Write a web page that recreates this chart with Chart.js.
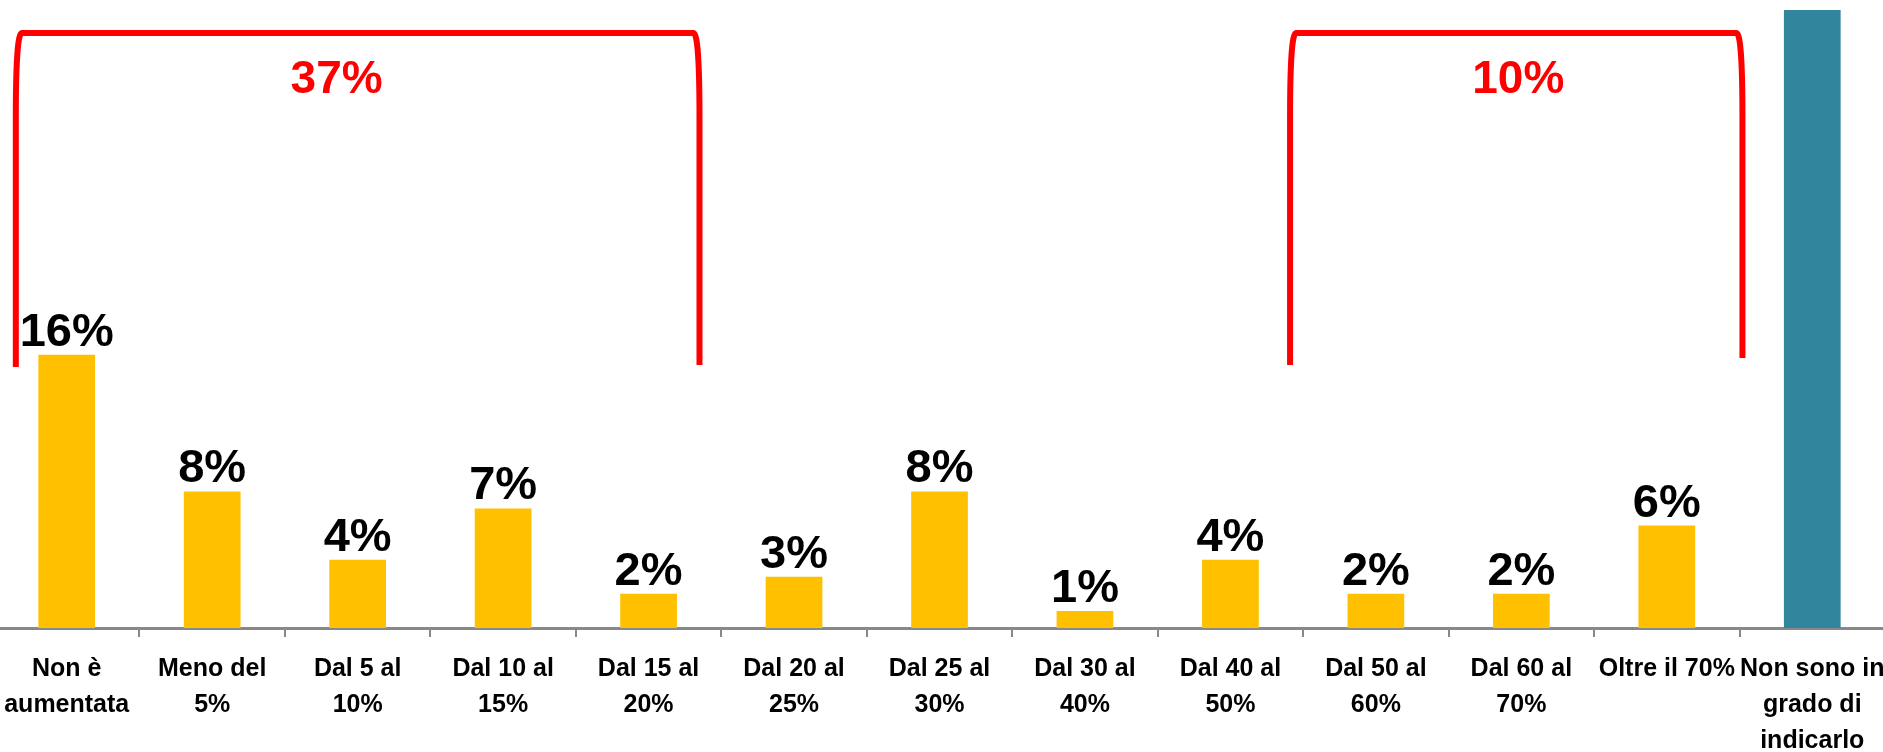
<!DOCTYPE html>
<html>
<head>
<meta charset="utf-8">
<script src="https://cdn.jsdelivr.net/npm/chart.js@4/dist/chart.umd.min.js"></script>
<style>
  html, body { margin: 0; padding: 0; background: #fff; overflow: hidden; }
  #wrap { position: absolute; left: -6px; top: 0; width: 1891px; height: 752px; }
</style>
</head>
<body>
<div id="wrap"><canvas id="myChart"></canvas></div>
<script>
// categories (multi-line tick labels)
const categories = [
    ['Non è', 'aumentata'],
    ['Meno del', '5%'],
    ['Dal 5 al', '10%'],
    ['Dal 10 al', '15%'],
    ['Dal 15 al', '20%'],
    ['Dal 20 al', '25%'],
    ['Dal 25 al', '30%'],
    ['Dal 30 al', '40%'],
    ['Dal 40 al', '50%'],
    ['Dal 50 al', '60%'],
    ['Dal 60 al', '70%'],
    ['Oltre il 70%'],
    ['Non sono in', 'grado di', 'indicarlo']
];
// percentages
const values = [16, 8, 4, 7, 2, 3, 8, 1, 4, 2, 2, 6, 37];
const yMax = 36.2;

// groups shown with the red brackets
const groupLabels = ['37%', '10%'];
const groupFrom = [0, 9];
const groupTo = [4, 11];

const barColors = values.map((v, i) => i === values.length - 1 ? '#31859C' : '#FFC000');
const FONT = '"Liberation Sans", Arial, sans-serif';

// bracket look, in fractions of a category width / pixels
const bracketStyle = [
    { padL: 0.35, padR: 0.35, bottomL: 367, bottomR: 365, textDx: -21 },
    { padL: 0.59, padR: 0.52, bottomL: 365, bottomR: 358, textDx: 2 }
];

const valueLabels = {
    id: 'valueLabels',
    afterDatasetsDraw(chart) {
        const ctx = chart.ctx;
        const meta = chart.getDatasetMeta(0);
        ctx.save();
        ctx.font = 'bold 47px ' + FONT;
        ctx.fillStyle = '#000';
        ctx.textAlign = 'center';
        ctx.textBaseline = 'alphabetic';
        meta.data.forEach((bar, i) => {
            if (values[i] > yMax) return; // clipped bar, no label
            ctx.fillText(values[i] + '%', bar.x, bar.y - 9);
        });
        ctx.restore();
    }
};

const brackets = {
    id: 'brackets',
    afterDraw(chart) {
        const ctx = chart.ctx;
        const x = chart.scales.x;
        const w = x.getPixelForValue(1) - x.getPixelForValue(0);
        const top = 33;
        ctx.save();
        ctx.strokeStyle = '#FF0000';
        ctx.lineWidth = 6;
        ctx.lineJoin = 'round';
        groupLabels.forEach((label, g) => {
            const s = bracketStyle[g];
            const xl = x.getPixelForValue(groupFrom[g]) - s.padL * w;
            const xr = x.getPixelForValue(groupTo[g]) + s.padR * w;
            ctx.beginPath();
            ctx.moveTo(xl, s.bottomL);
            ctx.lineTo(xl, top + 85);
            ctx.quadraticCurveTo(xl, top, xl + 6, top);
            ctx.lineTo(xr - 6, top);
            ctx.quadraticCurveTo(xr, top, xr, top + 85);
            ctx.lineTo(xr, s.bottomR);
            ctx.stroke();

            ctx.font = 'bold 46px ' + FONT;
            ctx.fillStyle = '#FF0000';
            ctx.textAlign = 'center';
            ctx.textBaseline = 'middle';
            ctx.fillText(label, (xl + xr) / 2 + s.textDx, 80);
        });
        ctx.restore();
    }
};

new Chart(document.getElementById('myChart'), {
    type: 'bar',
    data: {
        labels: categories,
        datasets: [{
            data: values,
            backgroundColor: barColors,
            borderWidth: 0,
            categoryPercentage: 1,
            barPercentage: 0.39
        }]
    },
    options: {
        responsive: true,
        maintainAspectRatio: false,
        animation: false,
        layout: { padding: { top: 10, left: 0, right: 0, bottom: 0 } },
        plugins: {
            legend: { display: false },
            tooltip: { enabled: false },
            title: { display: false }
        },
        scales: {
            x: {
                offset: true,
                afterFit: (scale) => {
                    scale.height = 124;
                    // let the last label run off the edge like the original
                    scale.paddingLeft = 0;
                    scale.paddingRight = 0;
                },
                grid: {
                    display: true,
                    drawOnChartArea: false,
                    drawTicks: true,
                    tickLength: 9,
                    color: '#888888',
                    lineWidth: 2
                },
                border: { display: true, color: '#888888', width: 3 },
                ticks: {
                    color: '#000',
                    autoSkip: false,
                    maxRotation: 0,
                    minRotation: 0,
                    padding: 14,
                    font: { family: FONT, size: 25, weight: 'bold', lineHeight: 1.44 }
                }
            },
            y: {
                display: false,
                min: 0,
                max: yMax
            }
        }
    },
    plugins: [valueLabels, brackets]
});
</script>
</body>
</html>
